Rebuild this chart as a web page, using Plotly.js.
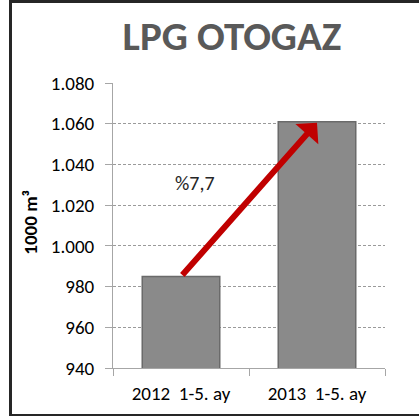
<!DOCTYPE html>
<html>
<head>
<meta charset="utf-8">
<script src="https://cdn.plot.ly/plotly-3.0.1.min.js"></script>
<style>
  body { margin: 0; background: #fff; }
  #plot { position: absolute; left: 0; top: 0; width: 419px; height: 416px; }
  #frame { position: absolute; left: 9px; top: 0px; width: 420px; height: 411px;
           border: 3px solid #262626; pointer-events: none; }
</style>
</head>
<body>
<div id="plot"></div>
<div id="frame"></div>
<script>
var periods = ['2012\u00a0\u00a01-5. ay', '2013\u00a0\u00a01-5. ay'];
var volumes = [985, 1061];
var changeLabel = '%7,7';

var font = 'Carlito, Lato, "Open Sans", sans-serif';

var trace = {
  x: periods,
  y: volumes,
  type: 'bar',
  marker: { color: '#8a8a8a', line: { color: '#6a6a6a', width: 1.5 } },
  hoverinfo: 'skip'
};

var layout = {
  width: 419,
  height: 416,
  margin: { l: 113, r: 34, t: 83, b: 48 },
  paper_bgcolor: '#fff',
  plot_bgcolor: '#fff',
  separators: ',.',
  font: { family: font, color: '#000' },
  showlegend: false,
  bargap: 0.43,
  title: {
    text: '<b>LPG OTOGAZ</b>',
    font: { family: font, size: 41, color: '#595959' },
    xref: 'container', yref: 'container',
    x: 232 / 419, xanchor: 'center',
    y: 1 - 36 / 416, yanchor: 'middle'
  },
  xaxis: {
    showline: true, linecolor: '#a6a6a6', linewidth: 1,
    ticks: 'outside', tickson: 'boundaries', ticklen: 7, tickcolor: '#a6a6a6',
    ticklabelstandoff: 8,
    tickfont: { size: 19, family: font, color: '#000' },
    showgrid: false
  },
  yaxis: {
    range: [940, 1080],
    dtick: 20,
    tickformat: ',d',
    showline: true, linecolor: '#a6a6a6', linewidth: 1,
    ticks: 'outside', ticklen: 7, tickcolor: '#a6a6a6',
    ticklabelstandoff: 7,
    tickfont: { size: 19, family: font, color: '#000' },
    showgrid: true, gridcolor: '#9a9a9a', griddash: '3px,2px', gridwidth: 1,
    zeroline: false
  },
  annotations: [
    {
      x: 1, y: volumes[1] - 0.5, xref: 'x', yref: 'y',
      ax: 0, ay: volumes[0], axref: 'x', ayref: 'y',
      showarrow: true, arrowhead: 1, arrowsize: 0.85, arrowwidth: 6,
      arrowcolor: '#c00000', text: ''
    },
    {
      x: (195 - 113) / 272, y: 1031, xref: 'paper', yref: 'y',
      xanchor: 'center', yanchor: 'middle',
      text: changeLabel, showarrow: false,
      font: { size: 20, family: font, color: '#262626' }
    },
    {
      x: (31 - 113) / 272, y: 0.51, xref: 'paper', yref: 'paper',
      xanchor: 'center', yanchor: 'middle',
      text: '<b>1000 m³</b>', textangle: -90, showarrow: false,
      font: { size: 19, family: font, color: '#000' }
    }
  ]
};

Plotly.newPlot('plot', [trace], layout, { displayModeBar: false, staticPlot: true });
</script>
</body>
</html>
